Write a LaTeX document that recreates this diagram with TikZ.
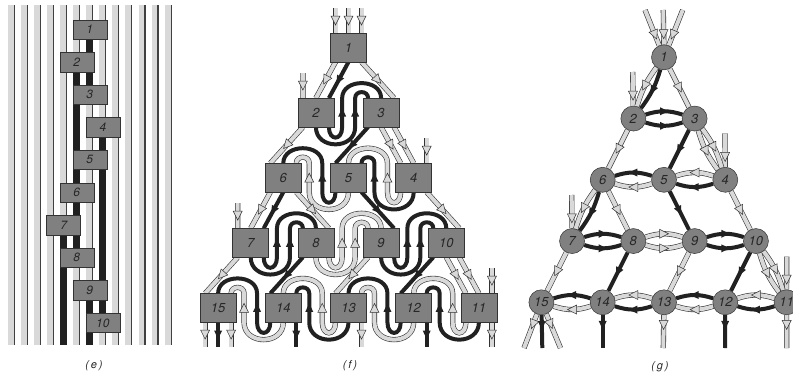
\documentclass[tikz,border=0pt]{standalone}
\usepackage{fontspec}
\setmainfont{TeX Gyre Heros}
\usetikzlibrary{decorations.markings}
\pgfdeclarelayer{bg}
\pgfsetlayers{bg,main}

\tikzset{
  pipe/.style={draw=black!80, line width=0.6pt, double=black!15, double distance=4pt},
  wire/.style={draw=black!87, line width=4pt},
  pipemark/.style={postaction={decorate, decoration={markings,
      mark=at position #1 with {\filldraw[fill=black!15, draw=black!80, line width=0.5pt]
        (4.5pt,0pt) -- (-4.5pt,4.5pt) -- (-4.5pt,-4.5pt) -- cycle;}}}},
  wiremark/.style={postaction={decorate, decoration={markings,
      mark=at position #1 with {\fill[black!87] (4.5pt,0pt) -- (-4pt,4pt) -- (-4pt,-4pt) -- cycle;}}}},
  ewire/.style={draw=black!87, line width=7pt},
  ebox/.style={draw=black!80, line width=0.5pt, fill=black!50, text=black!85, inner sep=0pt,
      minimum width=34pt, minimum height=19.5pt, font=\fontsize{12}{14}\selectfont\itshape},
  fbox/.style={ebox, minimum width=36pt, minimum height=28.5pt, font=\fontsize{13}{15}\selectfont\itshape},
  gnode/.style={circle, draw=black!80, line width=0.5pt, fill=black!50, text=black!85, inner sep=0pt,
      minimum size=25pt, font=\fontsize{13}{15}\selectfont\itshape},
  panel/.style={font=\fontsize{11}{13}\selectfont\itshape, text=black!85},
}

% S-shaped pair from box #1 to the box #2 on its right (#3 near, #4 far)
\newcommand{\sright}[4]{%
  \draw[#3] ([xshift=13pt]#1.south) .. controls +(0,14) and +(0,14) .. ([xshift=8pt]#1.south east)
    -- ([xshift=8pt]#1.north east) .. controls +(0,-20) and +(0,-20) .. (#2.north);
  \path[#3mark=0.5] ([xshift=8pt]#1.south east) -- ([xshift=8pt]#1.north east);
  \draw[#4] (#1.south) .. controls +(0,23) and +(0,23) .. ([xshift=21pt]#1.south east)
    -- ([xshift=21pt]#1.north east) .. controls +(0,-8) and +(0,-8) .. ([xshift=-13pt]#2.north);
  \path[#4mark=0.5] ([xshift=21pt]#1.south east) -- ([xshift=21pt]#1.north east);
}
% same, from box #1 to the box #2 on its left
\newcommand{\sleft}[4]{%
  \draw[#3] ([xshift=-13pt]#1.south) .. controls +(0,14) and +(0,14) .. ([xshift=-8pt]#1.south west)
    -- ([xshift=-8pt]#1.north west) .. controls +(0,-20) and +(0,-20) .. (#2.north);
  \path[#3mark=0.5] ([xshift=-8pt]#1.south west) -- ([xshift=-8pt]#1.north west);
  \draw[#4] (#1.south) .. controls +(0,23) and +(0,23) .. ([xshift=-21pt]#1.south west)
    -- ([xshift=-21pt]#1.north west) .. controls +(0,-8) and +(0,-8) .. ([xshift=13pt]#2.north);
  \path[#4mark=0.5] ([xshift=-21pt]#1.south west) -- ([xshift=-21pt]#1.north west);
}

\begin{document}
\begin{tikzpicture}[x=1pt, y=-1pt]
  \useasboundingbox (0,0) rectangle (793,378);

  % (e) wires and gates
  \foreach \n/\k in {1/6,2/5,3/6,4/7,5/6,6/5,7/4,8/5,9/6,10/7}
    \node[ebox] (e\n) at ({11.5+13.05*\k},{29.5+32.6*(\n-1)}) {\n};
  \begin{pgfonlayer}{bg}
    \foreach \k in {0,...,12} {
      \fill[black!15] ({8+13.05*\k},5) rectangle ({14+13.05*\k},345);
      \draw[black!75, line width=1.1pt] ({14.45+13.05*\k},5) -- ({14.45+13.05*\k},345);
    }
    \coordinate (eend) at (0,345);
    \draw[ewire] (e1.center) -- (e3.center);
    \draw[ewire] (e2.center) -- (e8.center);
    \draw[ewire] (e4.center) -- (e10.center);
    \draw[ewire] (e9.center) -- (e9.center |- eend);
    \draw[ewire] (e7.center) -- (e7.center |- eend);
  \end{pgfonlayer}

  % (f) boxes
  \foreach \n/\row/\col in {1/0/0,2/1/0,3/1/1,6/2/0,5/2/1,4/2/2,7/3/0,8/3/1,9/3/2,10/3/3,
                            15/4/0,14/4/1,13/4/2,12/4/3,11/4/4}
    \node[fbox] (f\n) at ({348.5+65.2*(\col-\row/2)},{47.5+65.1*\row}) {\n};

  % (g) sites
  \foreach \n/\row/\col in {1/0/0,2/1/0,3/1/1,6/2/0,5/2/1,4/2/2,7/3/0,8/3/1,9/3/2,10/3/3,
                            15/4/0,14/4/1,13/4/2,12/4/3,11/4/4}
    \node[gnode] (g\n) at ({664+61.3*(\col-\row/2)},{57.3+61.25*\row}) {\n};

  \node[panel] (pe) at (94,366) {(\,e\,)};
  \node[panel] (pf) at (350,366) {(\,f\,)};
  \node[panel] (pg) at (660,367) {(\,g\,)};

  \begin{pgfonlayer}{bg}
    % (f) free ends
    \coordinate (f1ina) at (335.5,8);
    \coordinate (f1inb) at (348.5,8);
    \coordinate (f1inc) at (361.5,8);
    \coordinate (f2in) at (302.9,73);
    \coordinate (f4in) at (426.7,138);
    \coordinate (f7in) at (237.7,203);
    \coordinate (f11in) at (491.9,268);
    \coordinate (f15outa) at (205.1,346.7);
    \coordinate (f15outb) at (218.1,346.7);
    \coordinate (f15outc) at (231.1,346.7);
    \coordinate (f14out) at (296.3,346.7);
    \coordinate (f13out) at (361.5,346.7);
    \coordinate (f12out) at (426.7,346.7);
    \coordinate (f11out) at (491.9,346.7);

    \draw[pipe, pipemark=0.5] (f1ina) -- ([xshift=-13pt]f1.north);
    \draw[pipe, pipemark=0.5] (f1inb) -- (f1.north);
    \draw[pipe, pipemark=0.5] (f1inc) -- ([xshift=13pt]f1.north);
    \draw[pipe, pipemark=0.5] (f2in) -- ([xshift=-13pt]f2.north);
    \draw[pipe, pipemark=0.5] (f4in) -- ([xshift=13pt]f4.north);
    \draw[pipe, pipemark=0.5] (f7in) -- ([xshift=-13pt]f7.north);
    \draw[pipe, pipemark=0.5] (f11in) -- ([xshift=13pt]f11.north);

    \draw[pipe, pipemark=0.5] ([xshift=-13pt]f15.south) -- (f15outa);
    \draw[wire, wiremark=0.5] (f15.south) -- (f15outb);
    \draw[pipe, pipemark=0.5] ([xshift=13pt]f15.south) -- (f15outc);
    \draw[wire, wiremark=0.5] ([xshift=13pt]f14.south) -- (f14out);
    \draw[pipe, pipemark=0.5] ([xshift=13pt]f13.south) -- (f13out);
    \draw[wire, wiremark=0.5] ([xshift=13pt]f12.south) -- (f12out);
    \draw[pipe, pipemark=0.5] ([xshift=13pt]f11.south) -- (f11out);

    % (f) S-shaped pairs along the rows
    \sright{f2}{f3}{wire}{wire}
    \sleft{f5}{f6}{wire}{pipe}
    \sleft{f4}{f5}{pipe}{wire}
    \sright{f7}{f8}{wire}{wire}
    \sright{f8}{f9}{pipe}{pipe}
    \sright{f9}{f10}{wire}{wire}
    \sleft{f14}{f15}{wire}{pipe}
    \sleft{f13}{f14}{pipe}{wire}
    \sleft{f12}{f13}{wire}{pipe}
    \sleft{f11}{f12}{pipe}{wire}

    % (f) links between rows
    \draw[pipe, pipemark=0.5] ([xshift=-13pt]f1.south) -- (f2.north);
    \draw[wire, wiremark=0.5] (f1.south) -- ([xshift=13pt]f2.north);
    \draw[pipe, pipemark=0.5] ([xshift=13pt]f1.south) -- ([xshift=13pt]f3.north);
    \draw[pipe, pipemark=0.5] ([xshift=-13pt]f2.south) -- ([xshift=-13pt]f6.north);
    \draw[wire, wiremark=0.5] ([xshift=-13pt]f3.south) -- ([xshift=-13pt]f5.north);
    \draw[pipe, pipemark=0.5] (f3.south) -- ([xshift=-13pt]f4.north);
    \draw[pipe, pipemark=0.5] ([xshift=13pt]f3.south) -- (f4.north);
    \draw[pipe, pipemark=0.5] ([xshift=-13pt]f6.south) -- (f7.north);
    \draw[wire, wiremark=0.5] (f6.south) -- ([xshift=13pt]f7.north);
    \draw[pipe, pipemark=0.5] ([xshift=13pt]f6.south) -- ([xshift=13pt]f8.north);
    \draw[wire, wiremark=0.5] ([xshift=13pt]f5.south) -- ([xshift=13pt]f9.north);
    \draw[pipe, pipemark=0.5] ([xshift=13pt]f4.south) -- ([xshift=13pt]f10.north);
    \draw[pipe, pipemark=0.5] ([xshift=-13pt]f7.south) -- ([xshift=-13pt]f15.north);
    \draw[wire, wiremark=0.5] ([xshift=-13pt]f8.south) -- ([xshift=-13pt]f14.north);
    \draw[pipe, pipemark=0.5] ([xshift=-13pt]f9.south) -- ([xshift=-13pt]f13.north);
    \draw[wire, wiremark=0.5] ([xshift=-13pt]f10.south) -- ([xshift=-13pt]f12.north);
    \draw[pipe, pipemark=0.5] (f10.south) -- ([xshift=-13pt]f11.north);
    \draw[pipe, pipemark=0.5] ([xshift=13pt]f10.south) -- (f11.north);

    % (g) free ends
    \coordinate (g1ina) at (645,10);
    \coordinate (g1inb) at (663.3,10);
    \coordinate (g1inc) at (682.7,10);
    \coordinate (g2in) at (632.7,72);
    \coordinate (g4in) at (725,133.3);
    \coordinate (g7in) at (571.7,195);
    \coordinate (g11in) at (786.7,256.7);
    \coordinate (g15outa) at (524,348);
    \coordinate (g15outb) at (542.3,348);
    \coordinate (g15outc) at (560.5,348);
    \coordinate (g14out) at (602.7,348);
    \coordinate (g13out) at (663.3,348);
    \coordinate (g12out) at (725,348);
    \coordinate (g11out) at (786.7,348);

    \draw[pipe, pipemark=0.7] (g1ina) -- (g1);
    \draw[pipe, pipemark=0.7] (g1inb) -- (g1);
    \draw[pipe, pipemark=0.7] (g1inc) -- (g1);
    \draw[pipe, pipemark=0.7] (g2in) -- (g2);
    \draw[pipe, pipemark=0.7] (g4in) -- (g4);
    \draw[pipe, pipemark=0.7] (g7in) -- (g7);
    \draw[pipe, pipemark=0.7] (g11in) -- (g11);
    \draw[pipe, pipemark=0.3] (g15) -- (g15outa);
    \draw[wire, wiremark=0.3] (g15) -- (g15outb);
    \draw[pipe, pipemark=0.3] (g15) -- (g15outc);
    \draw[wire, wiremark=0.3] (g14) -- (g14out);
    \draw[pipe, pipemark=0.3] (g13) -- (g13out);
    \draw[wire, wiremark=0.3] (g12) -- (g12out);
    \draw[pipe, pipemark=0.3] (g11) -- (g11out);

    % (g) links between rows
    \draw[pipe, pipemark=0.5] (g1) to[bend right=10] (g2);
    \draw[wire, wiremark=0.5] (g1) to[bend left=10] (g2);
    \draw[pipe, pipemark=0.5] (g1) -- (g3);
    \draw[pipe, pipemark=0.5] (g2) -- (g6);
    \draw[wire, wiremark=0.5] (g3) -- (g5);
    \draw[pipe, pipemark=0.5] (g3) to[bend right=10] (g4);
    \draw[pipe, pipemark=0.5] (g3) to[bend left=10] (g4);
    \draw[pipe, pipemark=0.5] (g6) to[bend right=10] (g7);
    \draw[wire, wiremark=0.5] (g6) to[bend left=10] (g7);
    \draw[pipe, pipemark=0.5] (g6) -- (g8);
    \draw[wire, wiremark=0.5] (g5) -- (g9);
    \draw[pipe, pipemark=0.5] (g4) -- (g10);
    \draw[pipe, pipemark=0.5] (g7) -- (g15);
    \draw[wire, wiremark=0.5] (g8) -- (g14);
    \draw[pipe, pipemark=0.5] (g9) -- (g13);
    \draw[wire, wiremark=0.5] (g10) -- (g12);
    \draw[pipe, pipemark=0.5] (g10) to[bend right=10] (g11);
    \draw[pipe, pipemark=0.5] (g10) to[bend left=10] (g11);

    % (g) pairs along the rows
    \draw[wire, wiremark=0.5] (g2) to[bend left=18] (g3);
    \draw[wire, wiremark=0.5] (g2) to[bend right=18] (g3);
    \draw[wire, wiremark=0.5] (g5) to[bend right=18] (g6);
    \draw[pipe, pipemark=0.5] (g5) to[bend left=18] (g6);
    \draw[pipe, pipemark=0.5] (g4) to[bend right=18] (g5);
    \draw[wire, wiremark=0.5] (g4) to[bend left=18] (g5);
    \draw[wire, wiremark=0.5] (g7) to[bend left=18] (g8);
    \draw[wire, wiremark=0.5] (g7) to[bend right=18] (g8);
    \draw[pipe, pipemark=0.5] (g8) to[bend left=18] (g9);
    \draw[pipe, pipemark=0.5] (g8) to[bend right=18] (g9);
    \draw[wire, wiremark=0.5] (g9) to[bend left=18] (g10);
    \draw[wire, wiremark=0.5] (g9) to[bend right=18] (g10);
    \draw[wire, wiremark=0.5] (g14) to[bend right=18] (g15);
    \draw[pipe, pipemark=0.5] (g14) to[bend left=18] (g15);
    \draw[pipe, pipemark=0.5] (g13) to[bend right=18] (g14);
    \draw[wire, wiremark=0.5] (g13) to[bend left=18] (g14);
    \draw[wire, wiremark=0.5] (g12) to[bend right=18] (g13);
    \draw[pipe, pipemark=0.5] (g12) to[bend left=18] (g13);
    \draw[pipe, pipemark=0.5] (g11) to[bend right=18] (g12);
    \draw[wire, wiremark=0.5] (g11) to[bend left=18] (g12);
  \end{pgfonlayer}
\end{tikzpicture}
\end{document}
